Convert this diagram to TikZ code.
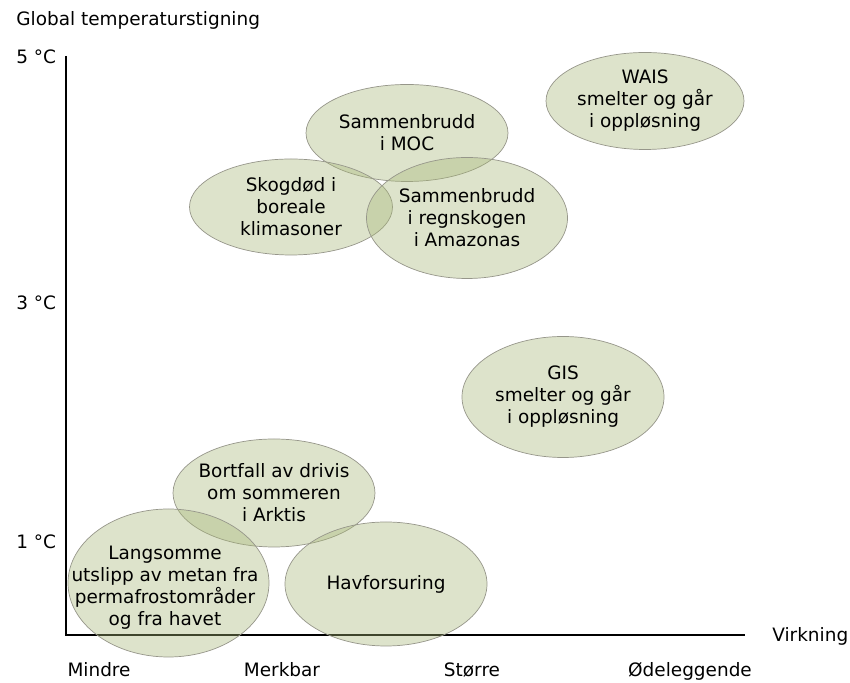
\documentclass[tikz,border=0pt]{standalone}
\usepackage{fontspec}
\setmainfont{DejaVu Sans}
\usepackage{tikz}
\usetikzlibrary{shapes.geometric}

\definecolor{olivefill}{RGB}{166,182,118}
\definecolor{rimgray}{RGB}{150,150,138}

\tikzset{
  tip/.style={ellipse, draw=rimgray, line width=0.4pt, fill=olivefill,
    fill opacity=0.38, inner sep=0pt},
  tiptext/.style={align=center, inner sep=0pt},
  lbl/.style={inner sep=0pt}
}

\begin{document}
\begin{tikzpicture}[font=\fontsize{10.5}{12.5}\selectfont]
  \useasboundingbox (0,0) rectangle (17,13.66);

  % Axes
  \coordinate (ytop) at (1.32,12.54);
  \coordinate (xend) at (14.9,0.96);
  \draw[line width=1.1pt] (ytop) |- (xend);

  % Axis titles
  \node[lbl, anchor=base west] (ytitle) at (0.32,13.14) {Global temperaturstigning};
  \node[lbl, anchor=base west] (xtitle) at (15.44,0.82) {Virkning};

  % Temperature marks
  \node[lbl, anchor=base west] (t5) at (0.32,12.38) {5 °C};
  \node[lbl, anchor=base west] (t3) at (0.32,7.46) {3 °C};
  \node[lbl, anchor=base west] (t1) at (0.32,2.68) {1 °C};

  % Impact classes
  \node[lbl, anchor=base] (mindre) at (1.98,0.12) {Mindre};
  \node[lbl, anchor=base] (merkbar) at (5.64,0.12) {Merkbar};
  \node[lbl, anchor=base] (storre) at (9.44,0.12) {Større};
  \node[lbl, anchor=base] (odel) at (13.8,0.12) {Ødeleggende};

  % Tipping elements: the shapes first (empty, fixed size) ...
  \node[tip, minimum width=3.96cm, minimum height=1.94cm] (wais) at (12.9,11.64) {};
  \node[tip, minimum width=4.04cm, minimum height=1.94cm] (moc) at (8.14,11.0) {};
  \node[tip, minimum width=4.06cm, minimum height=1.92cm] (skog) at (5.82,9.52) {};
  \node[tip, minimum width=4.02cm, minimum height=2.42cm] (amazon) at (9.34,9.3) {};
  \node[tip, minimum width=4.04cm, minimum height=2.42cm] (gis) at (11.26,5.72) {};
  \node[tip, minimum width=4.04cm, minimum height=2.16cm] (drivis) at (5.48,3.8) {};
  \node[tip, minimum width=4.02cm, minimum height=2.96cm] (metan) at (3.37,2.0) {};
  \node[tip, minimum width=4.04cm, minimum height=2.48cm] (hav) at (7.72,1.98) {};

  % ... then the texts on top
  \node[tiptext] (wais-t) at (wais) {WAIS\\smelter og går\\i oppløsning};
  \node[tiptext] (moc-t) at (moc) {Sammenbrudd\\i MOC};
  \node[tiptext] (skog-t) at (skog) {Skogdød i\\boreale\\klimasoner};
  \node[tiptext] (amazon-t) at (amazon) {Sammenbrudd\\i regnskogen\\i Amazonas};
  \node[tiptext] (gis-t) at (gis) {GIS\\smelter og går\\i oppløsning};
  \node[tiptext] (drivis-t) at (drivis) {Bortfall av drivis\\om sommeren\\i Arktis};
  \node[tiptext] (metan-t) at (3.3,1.9) {Langsomme\\utslipp av metan fra\\permafrostområder\\og fra havet};
  \node[tiptext] (hav-t) at (hav) {Havforsuring};
\end{tikzpicture}
\end{document}
